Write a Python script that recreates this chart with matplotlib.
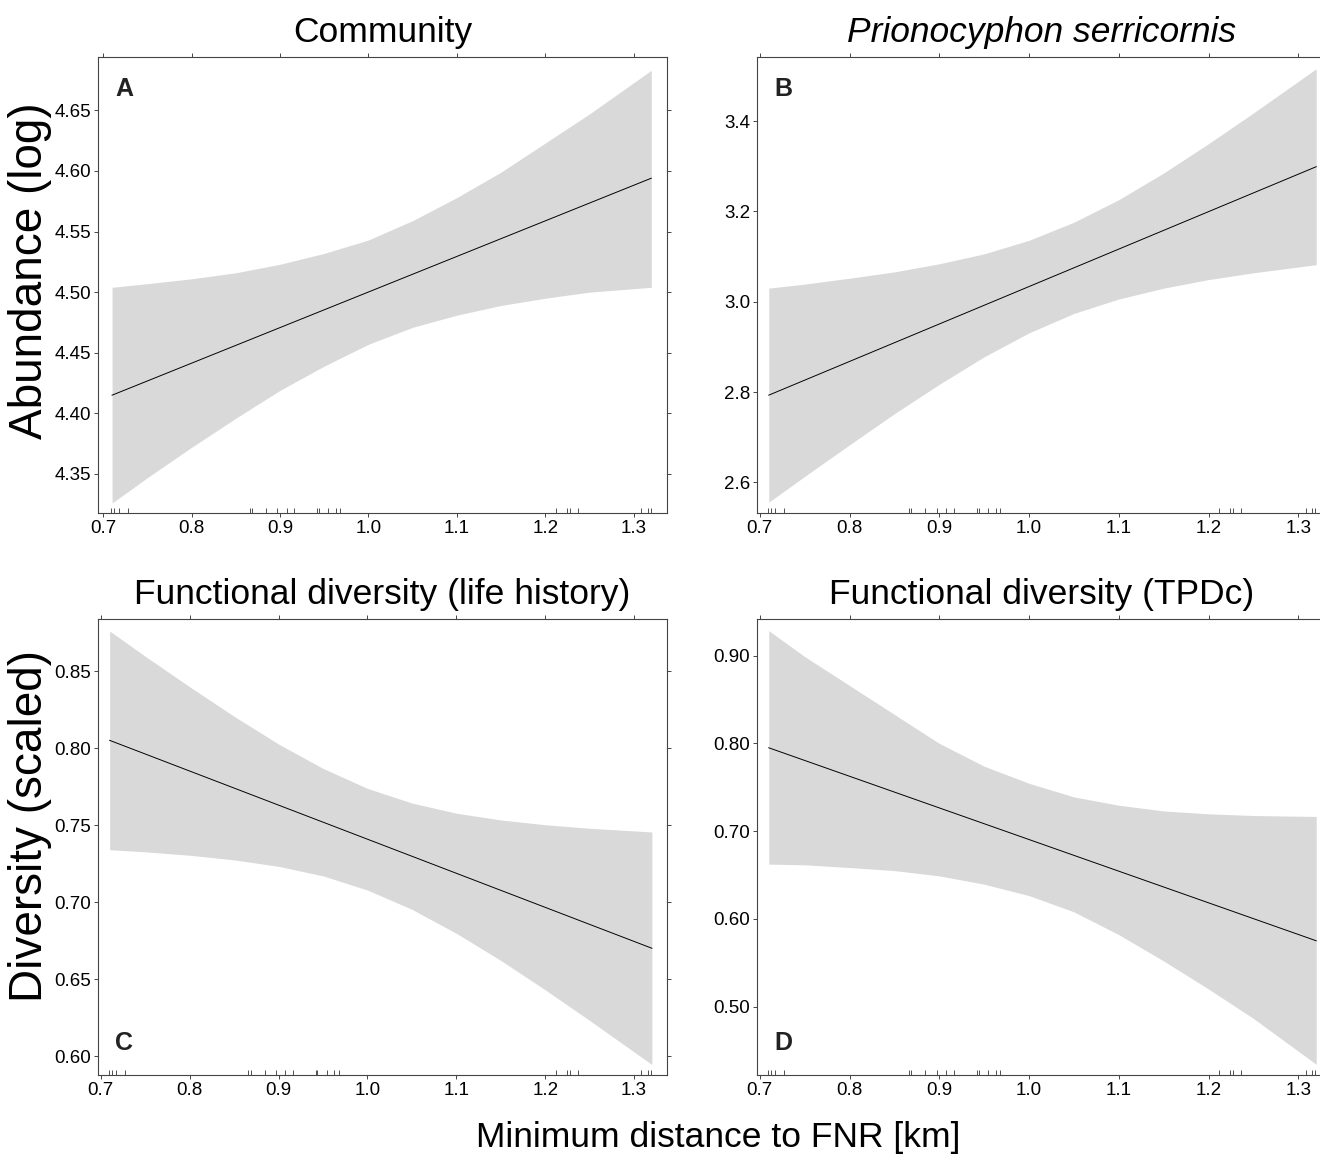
import numpy as np
import matplotlib
matplotlib.use("Agg")
import matplotlib.pyplot as plt

plt.rcParams['font.family'] = ['Liberation Sans', 'DejaVu Sans']

# distance values (rug) shared by all panels
rug_x = [0.7088, 0.7125, 0.7175, 0.7275, 0.8658, 0.8688, 0.8846, 0.8971,
         0.9075, 0.9163, 0.9417, 0.9438, 0.9546, 0.9629, 0.9679, 1.2117,
         1.2242, 1.2275, 1.2367, 1.3083, 1.3158, 1.3192]

# grid where the confidence band was read
band_x = [0.71, 0.75, 0.80, 0.85, 0.90, 0.95, 1.00, 1.05, 1.10, 1.15, 1.20, 1.25, 1.32]
fit_x = [0.71, 1.32]

# A: community abundance
a_fit = [4.415, 4.594]
a_up = [4.504, 4.507, 4.511, 4.516, 4.523, 4.532, 4.543, 4.559, 4.578, 4.599, 4.623, 4.647, 4.683]
a_lo = [4.326, 4.347, 4.372, 4.396, 4.419, 4.439, 4.457, 4.471, 4.481, 4.489, 4.495, 4.500, 4.504]

# B: Prionocyphon serricornis abundance
b_fit = [2.793, 3.299]
b_up = [3.030, 3.039, 3.052, 3.066, 3.084, 3.106, 3.136, 3.176, 3.226, 3.285, 3.350, 3.418, 3.516]
b_lo = [2.556, 2.613, 2.683, 2.752, 2.817, 2.878, 2.931, 2.974, 3.006, 3.030, 3.049, 3.064, 3.082]

# C: functional diversity (life history)
c_fit = [0.805, 0.670]
c_up = [0.876, 0.8596, 0.8398, 0.8206, 0.8026, 0.7868, 0.7738, 0.7643, 0.7577, 0.7533, 0.7502, 0.7479, 0.7455]
c_lo = [0.734, 0.7326, 0.7304, 0.7274, 0.7232, 0.717, 0.7078, 0.6953, 0.6797, 0.6621, 0.643, 0.6231, 0.5945]

# D: functional diversity (TPDc)
d_fit = [0.795, 0.575]
d_up = [0.9285, 0.899, 0.866, 0.833, 0.800, 0.774, 0.7545, 0.739, 0.7295, 0.723, 0.7197, 0.7178, 0.7167]
d_lo = [0.6624, 0.6616, 0.6585, 0.655, 0.649, 0.6395, 0.6265, 0.608, 0.582, 0.552, 0.520, 0.4865, 0.4342]

x_ticks = [0.7, 0.8, 0.9, 1.0, 1.1, 1.2, 1.3]

panels = [
    dict(title='Community', italic=False, letter='A', top=True,
         fit=a_fit, up=a_up, lo=a_lo, ylim=(4.3178, 4.694),
         yticks=[4.35, 4.40, 4.45, 4.50, 4.55, 4.60, 4.65], fmt='%.2f',
         xlim=(0.6941, 1.3378), pos=[98, 57]),
    dict(title='Prionocyphon serricornis', italic=True, letter='B', top=True,
         fit=b_fit, up=b_up, lo=b_lo, ylim=(2.532, 3.542),
         yticks=[2.6, 2.8, 3.0, 3.2, 3.4], fmt='%.1f',
         xlim=(0.6969, 1.3309), pos=[757, 57]),
    dict(title='Functional diversity (life history)', italic=False, letter='C', top=False,
         fit=c_fit, up=c_up, lo=c_lo, ylim=(0.5877, 0.8838),
         yticks=[0.60, 0.65, 0.70, 0.75, 0.80, 0.85], fmt='%.2f',
         xlim=(0.6969, 1.337), pos=[98, 619]),
    dict(title='Functional diversity (TPDc)', italic=False, letter='D', top=False,
         fit=d_fit, up=d_up, lo=d_lo, ylim=(0.422, 0.9418),
         yticks=[0.50, 0.60, 0.70, 0.80, 0.90], fmt='%.2f',
         xlim=(0.6969, 1.3309), pos=[757, 619]),
]

W, H = 1320, 1154
fig = plt.figure(figsize=(W / 100, H / 100), dpi=100)
aw, ah = 569, 456

for p in panels:
    x0, y0 = p['pos']
    ax = fig.add_axes([x0 / W, 1 - (y0 + ah) / H, aw / W, ah / H])
    ax.fill_between(band_x, p['lo'], p['up'], color='#d9d9d9', lw=0)
    ax.plot(fit_x, p['fit'], color='black', lw=0.7)
    ax.vlines(rug_x, 0, 0.01, transform=ax.get_xaxis_transform(), color='#333333', lw=0.6)
    ax.set_xlim(p['xlim'])
    ax.set_ylim(p['ylim'])
    ax.set_xticks(x_ticks)
    ax.set_xticklabels(['%.1f' % v for v in x_ticks])
    ax.set_yticks(p['yticks'])
    ax.set_yticklabels([p['fmt'] % v for v in p['yticks']])
    ax.tick_params(direction='out', length=3, width=0.7, color='#444444',
                   labelsize=13.5, pad=2, top=True, right=True)
    for s in ax.spines.values():
        s.set_color('#444444')
        s.set_linewidth(0.8)
    ax.set_title(p['title'], fontsize=25.5, pad=11,
                 style='italic' if p['italic'] else 'normal')
    ty, va = (0.956, 'top') if p['top'] else (0.044, 'bottom')
    ax.text(0.03, ty, p['letter'], transform=ax.transAxes, fontsize=18,
            fontweight='bold', color='#222222', ha='left', va=va)

fig.text(30 / W, 1 - 271 / H, 'Abundance (log)', rotation=90, fontsize=33,
         ha='center', va='center')
fig.text(30 / W, 1 - 826 / H, 'Diversity (scaled)', rotation=90, fontsize=33,
         ha='center', va='center')
fig.text(718 / W, 1 - 1137 / H, 'Minimum distance to FNR [km]', fontsize=25.5,
         ha='center', va='center')

fig.savefig('out.png', dpi=100)
